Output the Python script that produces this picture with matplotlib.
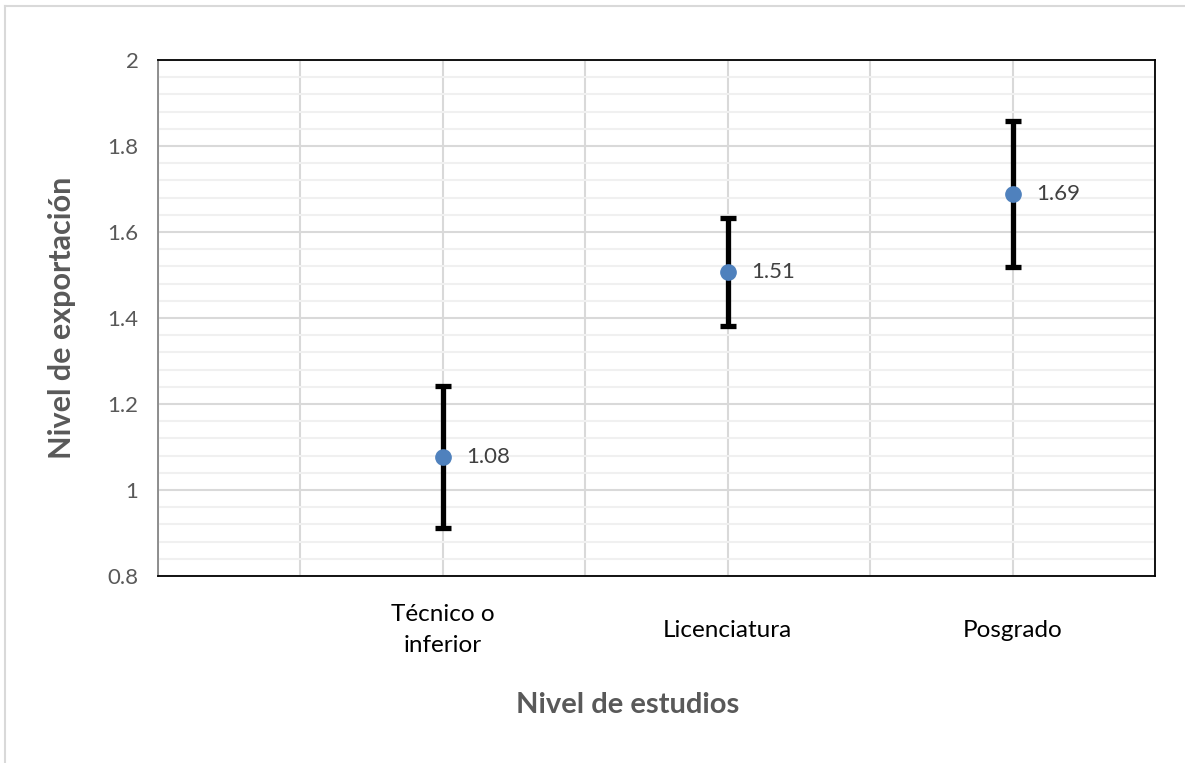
import matplotlib
matplotlib.use("Agg")
import matplotlib.pyplot as plt
from matplotlib.lines import Line2D
from matplotlib.ticker import MultipleLocator
import matplotlib.transforms as mtransforms

categories = ["Técnico o\ninferior", "Licenciatura", "Posgrado"]
x_pos = [2, 4, 6]
means = [1.077, 1.507, 1.689]
errors = [0.165, 0.125, 0.17]
value_labels = ["1.08", "1.51", "1.69"]

plt.rcParams["font.family"] = ["Lato", "DejaVu Sans"]

fig = plt.figure(figsize=(11.85, 7.63), dpi=100)
ax = fig.add_axes([158 / 1185, 1 - 576 / 763, 997 / 1185, 516 / 763])

# outer chart border (only top and left visible)
fig.add_artist(Line2D([5 / 1185, 1.0], [1 - 6 / 763, 1 - 6 / 763],
                      transform=fig.transFigure, color="#d9d9d9", lw=1.5))
fig.add_artist(Line2D([5 / 1185, 5 / 1185], [0.0, 1 - 6 / 763],
                      transform=fig.transFigure, color="#d9d9d9", lw=1.5))

ax.errorbar(
    x_pos,
    means,
    yerr=errors,
    fmt="o",
    color="#4f81bd",
    markersize=11,
    ecolor="black",
    elinewidth=3.8,
    capsize=6,
    capthick=3.8,
    zorder=3
)

for x, y, lab in zip(x_pos, means, value_labels):
    ax.annotate(
        lab,
        (x, y),
        xytext=(17, 0),
        textcoords="offset points",
        va="center",
        ha="left",
        fontsize=16,
        color="#404040"
    )

ax.set_xlim(0, 7)
ax.set_ylim(0.8, 2.0)

ax.xaxis.set_major_locator(MultipleLocator(1))
ax.yaxis.set_major_locator(MultipleLocator(0.2))
ax.yaxis.set_minor_locator(MultipleLocator(0.04))

ax.grid(which="major", color="#d9d9d9", lw=1.5, zorder=0)
ax.grid(which="minor", axis="y", color="#f0f0f0", lw=1.5, zorder=0)
ax.set_axisbelow(True)

ax.set_xticklabels([])
ax.tick_params(axis="x", length=0)
ax.tick_params(axis="y", which="both", length=0, labelsize=16,
               labelcolor="#595959", pad=14)
ax.set_yticks([0.8, 1.0, 1.2, 1.4, 1.6, 1.8, 2.0])
ax.set_yticklabels(["0.8", "1", "1.2", "1.4", "1.6", "1.8", "2"])

trans = mtransforms.blended_transform_factory(ax.transData, ax.transAxes)
for x, cat in zip(x_pos, categories):
    ax.text(x, -0.105, cat, transform=trans, ha="center", va="center",
            fontsize=17.5, color="black", linespacing=1.6)

for side in ["top", "right", "bottom"]:
    ax.spines[side].set_color("black")
    ax.spines[side].set_linewidth(1.3)
ax.spines["left"].set_color("#868686")
ax.spines["left"].set_linewidth(1.3)

fig.text(62 / 1185, 1 - 318 / 763, "Nivel de exportación", rotation=90,
         ha="center", va="center", fontsize=22, fontweight="bold",
         color="#595959")
fig.text(628 / 1185, 1 - 705 / 763, "Nivel de estudios",
         ha="center", va="center", fontsize=21, fontweight="bold",
         color="#595959")

plt.savefig("out.png", dpi=100)
plt.close()
